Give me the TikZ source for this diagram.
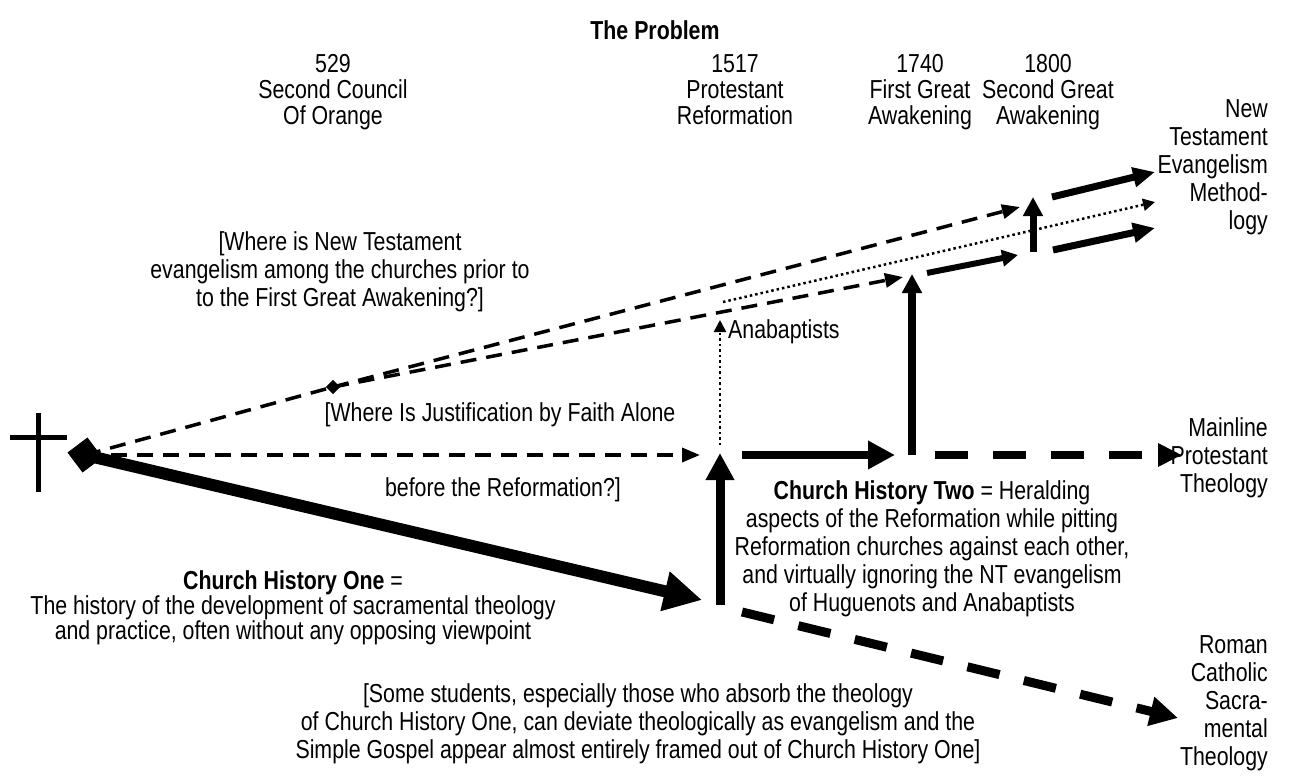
\documentclass[tikz,border=0pt]{standalone}
\usepackage{fontspec}
\setmainfont{Liberation Sans}[FakeStretch=0.82]
\usetikzlibrary{arrows.meta}
\begin{document}
\begin{tikzpicture}[x=1pt,y=-1pt,
  lbl/.style={font=\fontsize{26}{28}\selectfont, align=center, inner sep=0pt, anchor=north},
  rlbl/.style={lbl, align=right, anchor=north east},
  thindash/.style={line width=3.5pt, dash pattern=on 16pt off 10pt},
  thindashtip/.style={thindash, -{Triangle[length=18pt,width=14pt]}},
  dotline/.style={line width=2.5pt, dash pattern=on 2.5pt off 3pt, -{Triangle[length=12pt,width=12pt]}},
  thickdash/.style={line width=8pt, dash pattern=on 33pt off 25pt},
  heavy/.style={line width=#1, -{Triangle[length=27pt,width=27pt]}},
  medium/.style={line width=#1, -{Triangle[length=19pt,width=19pt]}},
  marker/.style={fill=black, inner sep=0pt, minimum size=#1}
]
\useasboundingbox (0,0) rectangle (1310,776);

% title
\node[lbl, font=\fontsize{26}{28}\selectfont\bfseries, anchor=center] (title) at (655,30) {The Problem};

% dates along the top
\tikzset{datelbl/.style={lbl, font=\fontsize{26}{26}\selectfont}}
\node[datelbl] (d529)  at (333,54) {529\\Second Council\\Of Orange};
\node[datelbl] (d1517) at (735,54) {1517\\Protestant\\Reformation};
\node[datelbl] (d1740) at (920,54) {1740\\First Great\\Awakening};
\node[datelbl] (d1800) at (1048,54) {1800\\Second Great\\Awakening};

% outcomes on the right
\node[rlbl] (nt) at (1268,99) {New\\Testament\\Evangelism\\Method-\\logy};
\node[rlbl] (mainline) at (1268,417) {Mainline\\Protestant\\Theology};
\node[rlbl] (rc) at (1268,635) {Roman\\Catholic\\Sacra-\\mental\\Theology};

% questions and descriptions
\node[lbl] (qnt) at (340,231) {[Where is New Testament\\evangelism among the churches prior to\\to the First Great Awakening?]};
\node[lbl] (just1) at (500,402) {[Where Is Justification by Faith Alone};
\node[lbl] (just2) at (503,477) {before the Reformation?]};
\node[lbl, anchor=west] (ana) at (728,332) {Anabaptists};
\node[lbl] (ch2) at (932,480) {\textbf{Church History Two} = Heralding\\aspects of the Reformation while pitting\\Reformation churches against each other,\\and virtually ignoring the NT evangelism\\of Huguenots and Anabaptists};
\node[lbl, font=\fontsize{26}{25}\selectfont] (ch1) at (293,570) {\textbf{Church History One} =\\The history of the development of sacramental theology\\and practice, often without any opposing viewpoint};
\node[lbl] (students) at (638,683) {[Some students, especially those who absorb the theology\\of Church History One, can deviate theologically as evangelism and the\\Simple Gospel appear almost entirely framed out of Church History One]};

% the cross
\draw[line width=5pt] (38,413) -- (38,492);
\draw[line width=5pt] (10,437) -- (67,437);

% junction points
\coordinate (justEnd) at (700,455);
\coordinate (chOneEnd) at (702,600);
\coordinate (refBot) at (720,605);
\coordinate (refTop) at (720,453);
\coordinate (anaBot) at (720,445);
\coordinate (anaTop) at (720,320);
\coordinate (chTwoStart) at (742,455);
\coordinate (chTwoEnd) at (895,455);
\coordinate (gaBot) at (912,455);
\coordinate (gaTop) at (912,274);
\coordinate (mainStart) at (935,455);
\coordinate (mainEnd) at (1182,455);
\coordinate (rcStart) at (742,612);
\coordinate (rcEnd) at (1178,718);
\coordinate (dotStart) at (723,302);
\coordinate (dotEnd) at (1155,202);
\coordinate (lowDashEnd) at (903,277);
\coordinate (upDashEnd) at (1020,207);
\coordinate (midStart) at (927,273);
\coordinate (midEnd) at (1018,255);
\coordinate (sgaBot) at (1033,252);
\coordinate (sgaTop) at (1033,197);
\coordinate (ntUpStart) at (1052,197);
\coordinate (ntUpEnd) at (1155,172);
\coordinate (ntLowStart) at (1053,250);
\coordinate (ntLowEnd) at (1155,228);

% origin marker and branch marker
\node[marker=25pt, rotate=37] (origin) at (85,455) {};
\node[marker=10pt, rotate=45] (split) at (333,387) {};

% dashed question lines
\draw[thindash] (origin.center) -- (split.center);
\draw[thindashtip] (split.center) -- (upDashEnd);
\draw[thindashtip] (split.center) -- (lowDashEnd);
\draw[thindashtip] (origin.center) -- (justEnd);

% church history one
\draw[line width=12pt, -{Triangle[length=38pt,width=38pt]}] (origin.center) -- (chOneEnd);
\draw[heavy=9pt] (refBot) -- (refTop);

% anabaptist thread
\draw[dotline] (anaBot) -- (anaTop);
\draw[dotline] (dotStart) -- (dotEnd);

% church history two
\draw[heavy=8pt] (chTwoStart) -- (chTwoEnd);
\draw[thickdash, -{Triangle[length=24pt,width=22pt]}] (mainStart) -- (mainEnd);
\draw[thickdash, -{Triangle[length=28pt,width=28pt]}, line width=9pt] (rcStart) -- (rcEnd);

% awakenings
\draw[medium=8pt] (gaBot) -- (gaTop);
\draw[line width=6pt, -{Triangle[length=16pt,width=16pt]}] (midStart) -- (midEnd);
\draw[medium=7pt] (sgaBot) -- (sgaTop);
\draw[line width=7pt, -{Triangle[length=22pt,width=19pt]}] (ntUpStart) -- (ntUpEnd);
\draw[line width=7pt, -{Triangle[length=22pt,width=19pt]}] (ntLowStart) -- (ntLowEnd);
\end{tikzpicture}
\end{document}
